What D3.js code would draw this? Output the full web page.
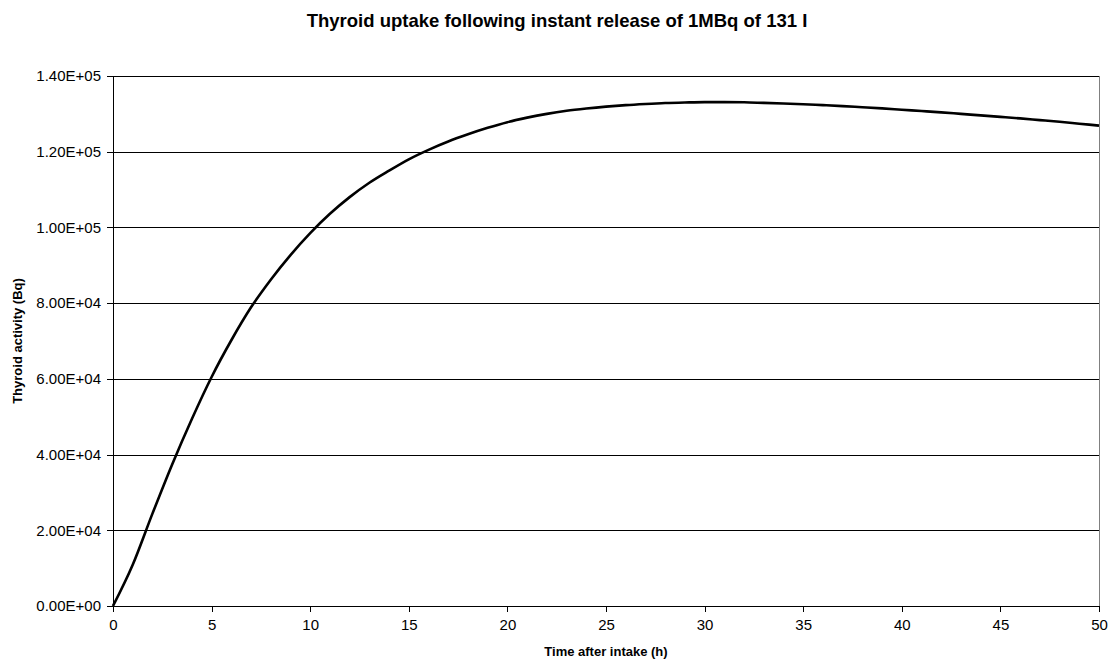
<!DOCTYPE html>
<html lang="en">
<head>
    <meta charset="UTF-8">
    <title>Thyroid uptake</title>
    <script src="https://d3js.org/d3.v7.min.js"></script>
    <style>
        body {
            margin: 0;
            background: #fff;
            font-family: "Liberation Sans", Arial, sans-serif;
        }
        .grid line {
            stroke: #000;
            stroke-width: 1px;
            shape-rendering: crispEdges;
        }
        .axis text {
            font-size: 15px;
            fill: #000;
        }
        .axis path, .axis line {
            stroke: #000;
            shape-rendering: crispEdges;
        }
        .title {
            font-size: 18.5px;
            font-weight: bold;
        }
        .axis-title {
            font-size: 13px;
            font-weight: bold;
        }
    </style>
</head>
<body>
    <svg width="1109" height="662"></svg>

    <script>
        // hours after intake
        const hours = [0, 1, 2, 3, 4, 5, 6, 7, 8, 9, 10, 11, 12, 13, 14, 15, 16, 17, 18, 19, 20,
                       21, 22, 23, 24, 25, 26, 27, 28, 29, 30, 31, 32, 33, 34, 35, 36, 37, 38, 39, 40,
                       41, 42, 43, 44, 45, 46, 47, 48, 49, 50];
        // thyroid activity (Bq)
        const activity = [0, 10900, 24400, 37400, 49400, 60500, 70200, 78900, 86200, 92700, 98500,
                          103600, 108000, 111800, 115000, 118000, 120500, 122700, 124600, 126300, 127800,
                          129000, 130000, 130800, 131400, 131900, 132300, 132600, 132850, 133000, 133100,
                          133100, 133050, 132900, 132750, 132550, 132300, 132050, 131750, 131450, 131100,
                          130750, 130400, 130000, 129600, 129200, 128800, 128350, 127900, 127400, 126900];
        const xTicks = [0, 5, 10, 15, 20, 25, 30, 35, 40, 45, 50];
        const yTicks = [0, 20000, 40000, 60000, 80000, 100000, 120000, 140000];

        const svg = d3.select("svg");
        const margin = {left: 113, top: 76, right: 10, bottom: 56};
        const width = 1109 - margin.left - margin.right,
              height = 662 - margin.top - margin.bottom;

        const x = d3.scaleLinear().domain([0, 50]).range([0, width]);
        const y = d3.scaleLinear().domain([0, 140000]).range([height, 0]);

        const g = svg.append("g")
            .attr("transform", `translate(${margin.left},${margin.top})`);

        // horizontal gridlines
        g.append("g")
            .attr("class", "grid")
            .selectAll("line")
            .data(yTicks.slice(1))
            .enter().append("line")
            .attr("x1", 0)
            .attr("x2", width)
            .attr("y1", d => Math.round(y(d)) + 0.5)
            .attr("y2", d => Math.round(y(d)) + 0.5);

        // right border of plot area
        g.append("line")
            .attr("x1", width + 0.5).attr("x2", width + 0.5)
            .attr("y1", 0).attr("y2", height)
            .attr("stroke", "#808080");

        const fmt = d => d3.format(".2e")(d).toUpperCase().replace(/E([+-])(\d)$/, "E$10$2");

        g.append("g")
            .attr("class", "axis")
            .call(d3.axisLeft(y).tickValues(yTicks).tickFormat(fmt).tickSize(6).tickPadding(6))
            .call(a => a.select(".domain").attr("d", `M0.5,0V${height}`));

        g.append("g")
            .attr("class", "axis")
            .attr("transform", `translate(0,${height})`)
            .call(d3.axisBottom(x).tickValues(xTicks).tickFormat(d3.format("d")).tickSize(6).tickPadding(7))
            .call(a => a.select(".domain").attr("d", `M0,0.5H${width}`));

        // the curve
        const points = hours.map((h, i) => [h, activity[i]]);
        const line = d3.line()
            .x(d => x(d[0]))
            .y(d => y(d[1]))
            .curve(d3.curveMonotoneX);

        g.append("path")
            .datum(points)
            .attr("fill", "none")
            .attr("stroke", "#000")
            .attr("stroke-width", 2.6)
            .attr("d", line);

        // titles
        svg.append("text")
            .attr("class", "title")
            .attr("x", 557)
            .attr("y", 27)
            .attr("text-anchor", "middle")
            .text("Thyroid uptake following instant release of 1MBq of 131 I");

        svg.append("text")
            .attr("class", "axis-title")
            .attr("x", margin.left + width / 2)
            .attr("y", 656)
            .attr("text-anchor", "middle")
            .text("Time after intake (h)");

        svg.append("text")
            .attr("class", "axis-title")
            .attr("transform", `translate(22,${margin.top + height / 2}) rotate(-90)`)
            .attr("text-anchor", "middle")
            .text("Thyroid activity (Bq)");
    </script>
</body>
</html>
